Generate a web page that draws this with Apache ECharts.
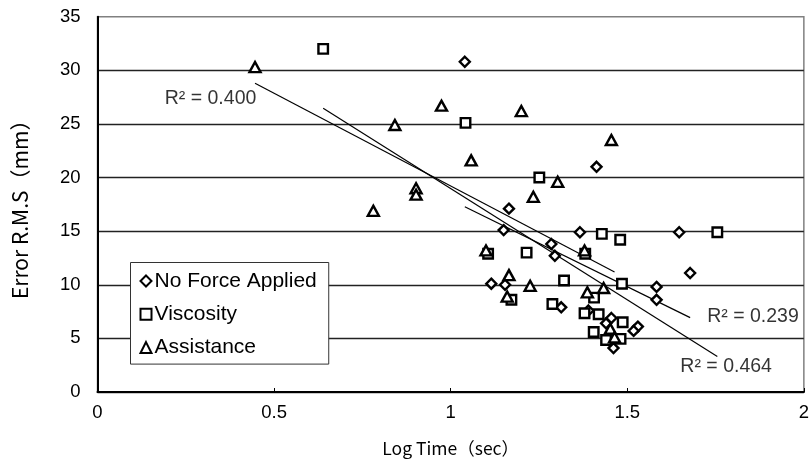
<!DOCTYPE html>
<html>
<head>
<meta charset="utf-8">
<script src="https://cdn.jsdelivr.net/npm/echarts@6/dist/echarts.min.js"></script>
<style>
html,body{margin:0;padding:0;background:#fff;}
#chart{width:812px;height:464px;}
</style>
</head>
<body>
<div id="chart"></div>
<script>
// ---- data ----
var seriesNames = ['No Force Applied', 'Viscosity', 'Assistance'];

var noForceX = [1.040, 1.413, 1.165, 1.150, 1.366, 1.647, 1.285, 1.295, 1.678, 1.115, 1.154, 1.583, 1.583, 1.313, 1.390, 1.455, 1.440, 1.530, 1.518, 1.461];
var noForceY = [30.8, 21.0, 17.1, 15.1, 14.9, 14.9, 13.8, 12.7, 11.1, 10.1, 10.0, 9.8, 8.6, 7.9, 7.6, 6.9, 6.4, 6.1, 5.7, 4.1];

var viscX = [0.639, 1.042, 1.251, 1.428, 1.480, 1.755, 1.106, 1.215, 1.381, 1.321, 1.485, 1.406, 1.172, 1.288, 1.379, 1.419, 1.487, 1.405, 1.440, 1.481];
var viscY = [32.0, 25.1, 20.0, 14.75, 14.2, 14.9, 12.9, 13.0, 12.9, 10.4, 10.1, 8.8, 8.6, 8.2, 7.35, 7.25, 6.5, 5.6, 4.85, 4.95];

var assistX = [0.446, 0.974, 0.842, 1.058, 1.200, 1.455, 0.902, 0.902, 0.781, 1.303, 1.234, 1.100, 1.379, 1.165, 1.225, 1.160, 1.433, 1.387, 1.452, 1.464];
var assistY = [30.3, 26.7, 24.9, 21.6, 26.2, 23.5, 19.0, 18.4, 16.9, 19.6, 18.2, 13.2, 13.2, 10.9, 9.9, 8.9, 9.7, 9.3, 5.9, 5.1];

// linear trendlines (slope, intercept), per series
var trendSlope = [-16.2, -20.75, -17.29];
var trendIntercept = [34.12, 39.72, 36.51];
var r2Text = ['R\u00B2 = 0.239', 'R\u00B2 = 0.464', 'R\u00B2 = 0.400'];
var r2Anchor = [[1.856, 7.0], [1.78, 2.35], [0.32, 27.4]];

var xTicks = [0, 0.5, 1, 1.5, 2];
var yTicks = [0, 5, 10, 15, 20, 25, 30, 35];

// ---- build ----
var xs = [noForceX, viscX, assistX];
var ys = [noForceY, viscY, assistY];
var symbols = ['diamond', 'rect', 'triangle'];
var FONT = '"Liberation Sans", Arial, "Noto Sans CJK JP", sans-serif';
var CJK = '"Noto Sans CJK JP", sans-serif';

function zip(a, b) { return a.map(function (v, i) { return [v, b[i]]; }); }

var series = [];
for (var i = 0; i < 3; i++) {
  series.push({
    name: seriesNames[i],
    type: 'scatter',
    data: zip(xs[i], ys[i]),
    symbol: symbols[i],
    symbolSize: i === 2 ? [11, 10] : (i === 0 ? 10 : 9.5),
    itemStyle: { color: '#ffffff', borderColor: '#000000', borderWidth: 2.4, opacity: 1 },
    z: 5
  });
}
for (var j = 0; j < 3; j++) {
  var x0 = Math.min.apply(null, xs[j]);
  var x1 = Math.max.apply(null, xs[j]);
  series.push({
    type: 'line',
    data: [[x0, trendSlope[j] * x0 + trendIntercept[j]], [x1, trendSlope[j] * x1 + trendIntercept[j]]],
    showSymbol: false,
    symbol: 'none',
    lineStyle: { color: '#000', width: 1.2 },
    silent: true,
    z: 3
  });
  series.push({
    type: 'scatter',
    data: [r2Anchor[j]],
    symbolSize: 0,
    silent: true,
    label: {
      show: true, position: 'inside', formatter: r2Text[j],
      color: '#000', fontSize: 19.5, fontFamily: FONT
    },
    z: 6
  });
}

var chart = echarts.init(document.getElementById('chart'), null, { renderer: 'canvas' });
chart.setOption({
  animation: false,
  backgroundColor: '#ffffff',
  grid: {
    left: 97.5, right: 5, top: 16.7, bottom: 72,
    show: true, borderColor: '#808080', borderWidth: 1.5, backgroundColor: 'transparent'
  },
  legend: {
    data: seriesNames,
    orient: 'vertical',
    left: 130.5, top: 262.5,
    backgroundColor: '#ffffff',
    borderColor: '#333333', borderWidth: 1,
    padding: [8, 12, 6, 9],
    itemWidth: 11, itemHeight: 11, itemGap: 12.3,
    textStyle: { fontSize: 21, lineHeight: 21, color: '#000', fontFamily: FONT, padding: [0, 0, 0, -2] },
    selectedMode: false
  },
  xAxis: {
    type: 'value', min: xTicks[0], max: xTicks[xTicks.length - 1], interval: 0.5,
    name: 'Log Time\uFF08sec\uFF09', nameLocation: 'middle', nameGap: 48,
    nameTextStyle: { fontSize: 17.5, color: '#000', fontFamily: CJK },
    axisLine: { show: true, lineStyle: { color: '#000', width: 2 } },
    axisTick: { show: true, inside: true, length: 4, lineStyle: { color: '#000', width: 1 } },
    axisLabel: { fontSize: 18.5, color: '#000', fontFamily: FONT, margin: 12 },
    splitLine: { show: false }
  },
  yAxis: {
    type: 'value', min: yTicks[0], max: yTicks[yTicks.length - 1], interval: 5,
    name: 'Error R.M.S\uFF08mm\uFF09', nameLocation: 'middle', nameGap: 67, nameRotate: 90,
    nameTextStyle: { fontSize: 21, color: '#000', fontFamily: CJK },
    axisLine: { show: true, lineStyle: { color: '#000', width: 2 } },
    axisTick: { show: false },
    axisLabel: { fontSize: 18.5, color: '#000', fontFamily: FONT, margin: 17 },
    splitLine: { show: true, showMaxLine: false, lineStyle: { color: '#222', width: 1.4 } }
  },
  series: series
});
</script>
</body>
</html>
